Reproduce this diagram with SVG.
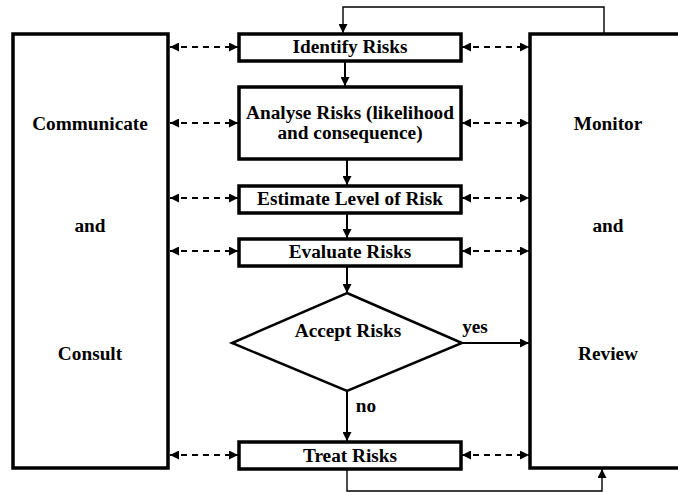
<svg xmlns="http://www.w3.org/2000/svg" width="678" height="492" viewBox="0 0 678 492">
<style>
.box{fill:#fff;stroke:#000;stroke-width:3.5}
.big{fill:#fff;stroke:#000;stroke-width:3.5}
.dia{fill:#fff;stroke:#000;stroke-width:2.5}
text{font-family:'Liberation Serif','Times New Roman','DejaVu Serif',serif;font-weight:bold;font-size:19.3px;fill:#000;text-anchor:middle}
.solid{fill:none;stroke:#000;stroke-width:2}
.thin{fill:none;stroke:#000;stroke-width:1.4}
.dash{fill:none;stroke:#000;stroke-width:2;stroke-dasharray:6 5}
</style>
<defs>
<marker id="ah" viewBox="0 0 10 10" refX="10" refY="5" markerWidth="9" markerHeight="9" markerUnits="userSpaceOnUse" orient="auto-start-reverse">
<path d="M0,0 L10,5 L0,10 z" fill="#000"/>
</marker>
</defs>
<rect width="678" height="492" fill="#fff"/>
<g id="communicate">
<rect class="big" x="13" y="34" width="155" height="434"/>
<text x="90" y="130">Communicate</text>
<text x="90" y="232">and</text>
<text x="90" y="360">Consult</text>
</g>
<g id="monitor">
<rect class="big" x="530" y="34" width="160" height="434"/>
<text x="608" y="130">Monitor</text>
<text x="608" y="232">and</text>
<text x="608" y="360">Review</text>
</g>
<g id="identify">
<rect class="box" x="239" y="34" width="222" height="27"/>
<text x="350" y="53">Identify Risks</text>
</g>
<g id="analyse">
<rect class="box" x="239" y="87" width="222" height="72"/>
<text x="350" y="119">Analyse Risks (likelihood</text>
<text x="350" y="139">and consequence)</text>
</g>
<g id="estimate">
<rect class="box" x="239" y="186" width="222" height="27"/>
<text x="350" y="205">Estimate Level of Risk</text>
</g>
<g id="evaluate">
<rect class="box" x="239" y="239" width="222" height="27"/>
<text x="350" y="258">Evaluate Risks</text>
</g>
<g id="accept">
<polygon class="dia" points="347,293 462,343 347,391 232,343"/>
<text x="348" y="337">Accept Risks</text>
</g>
<g id="treat">
<rect class="box" x="239" y="442" width="222" height="27"/>
<text x="350" y="462">Treat Risks</text>
</g>
<g id="connectors">
<line class="solid" x1="345" y1="61" x2="345" y2="86" marker-end="url(#ah)"/>
<line class="solid" x1="347" y1="159" x2="347" y2="185" marker-end="url(#ah)"/>
<line class="solid" x1="347" y1="213" x2="347" y2="238" marker-end="url(#ah)"/>
<line class="solid" x1="347" y1="266" x2="347" y2="293" marker-end="url(#ah)"/>
<line class="solid" x1="347" y1="391" x2="347" y2="441" marker-end="url(#ah)"/>
<line class="solid" x1="462" y1="343" x2="529" y2="343" marker-end="url(#ah)"/>
<polyline class="thin" points="604,33 604,7 343,7 343,33" marker-end="url(#ah)"/>
<polyline class="thin" points="347,470 347,491 602,491 602,469" marker-end="url(#ah)"/>
<line class="dash" x1="170" y1="47" x2="238" y2="47" marker-start="url(#ah)" marker-end="url(#ah)"/>
<line class="dash" x1="170" y1="123" x2="238" y2="123" marker-start="url(#ah)" marker-end="url(#ah)"/>
<line class="dash" x1="170" y1="198" x2="238" y2="198" marker-start="url(#ah)" marker-end="url(#ah)"/>
<line class="dash" x1="170" y1="251" x2="238" y2="251" marker-start="url(#ah)" marker-end="url(#ah)"/>
<line class="dash" x1="170" y1="455" x2="238" y2="455" marker-start="url(#ah)" marker-end="url(#ah)"/>
<line class="dash" x1="462" y1="47" x2="529" y2="47" marker-start="url(#ah)" marker-end="url(#ah)"/>
<line class="dash" x1="462" y1="123" x2="529" y2="123" marker-start="url(#ah)" marker-end="url(#ah)"/>
<line class="dash" x1="462" y1="198" x2="529" y2="198" marker-start="url(#ah)" marker-end="url(#ah)"/>
<line class="dash" x1="462" y1="251" x2="529" y2="251" marker-start="url(#ah)" marker-end="url(#ah)"/>
<line class="dash" x1="462" y1="455" x2="529" y2="455" marker-start="url(#ah)" marker-end="url(#ah)"/>
<text x="475" y="333">yes</text>
<text x="366" y="412">no</text>
</g>
</svg>
